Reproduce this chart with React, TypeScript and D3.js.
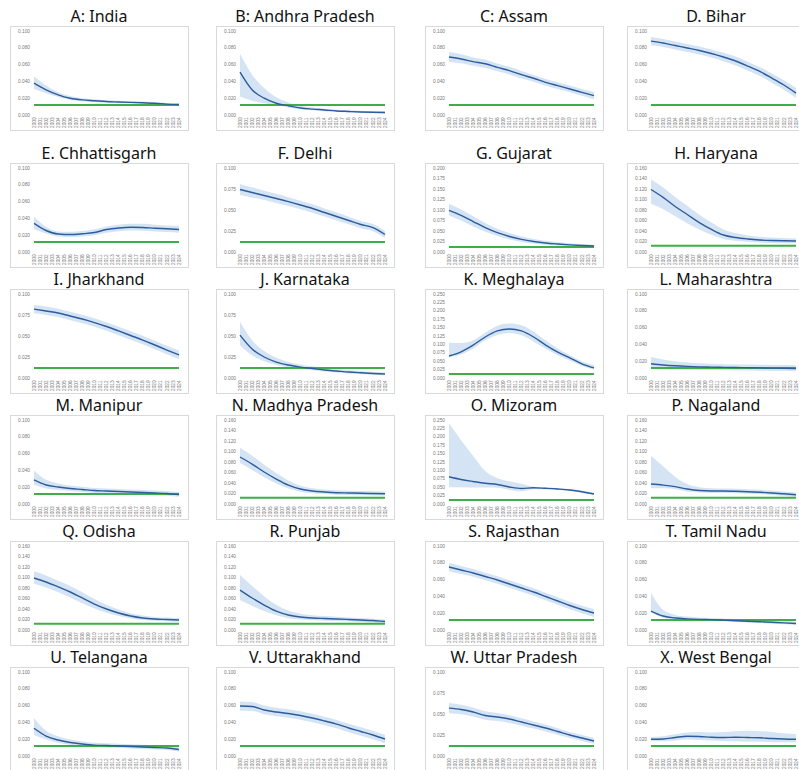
import React from 'react';
import * as d3 from 'd3';

// x-axis tick labels and the years where the estimates were read
const xYears = ['2000', '2001', '2002', '2003', '2004', '2005', '2006', '2007', '2008', '2009', '2010', '2011', '2012',
  '2013', '2014', '2015', '2016', '2017', '2018', '2019', '2020', '2021', '2022', '2023', '2024'];
const dataYears = [2000, 2002, 2004, 2006, 2008, 2010, 2012, 2014, 2016, 2018, 2020, 2022, 2024];
const target = 12;

const indiaMean = [38, 30, 24, 20, 18, 17, 16, 15.5, 15, 14.5, 14, 13, 12.5];
const indiaHi = [46, 35, 27, 22.5, 20, 18.7, 17.6, 17, 16.5, 16, 15.4, 14.4, 13.8];
const indiaLo = [31, 26, 21.5, 18, 16.3, 15.5, 14.6, 14.1, 13.6, 13.1, 12.6, 11.7, 11.2];

const andhraMean = [51, 30, 20, 14, 11, 8.3, 7, 6, 4.8, 4.2, 3.6, 3.2, 3];
const andhraHi = [73, 48, 32, 21, 15, 11, 9, 7.5, 6.3, 5.6, 5, 4.6, 4.4];
const andhraLo = [22, 17, 14, 11.5, 9, 7, 5.6, 4.6, 3.5, 2.9, 2.3, 2, 1.7];

const assamMean = [69, 66.7, 63.5, 61, 56.7, 52.8, 48, 43.7, 38.9, 34.9, 31, 27, 23];
const assamHi = [75, 72.2, 68.5, 66, 61.2, 57.3, 52.5, 47.7, 42.9, 38.9, 35, 31, 27.5];
const assamLo = [63, 61.5, 58.5, 56, 52.2, 48.3, 43.5, 39.7, 34.9, 30.9, 27, 23, 18.5];

const biharMean = [88, 85.7, 82.7, 79.8, 76.8, 73.2, 69, 64.3, 58.3, 51.8, 44, 35.7, 26];
const biharHi = [93, 90.5, 87.5, 84.5, 81.5, 78, 74, 69.5, 63.5, 57, 49.5, 41.5, 32];
const biharLo = [83, 81, 78, 75, 72, 68.5, 64, 59, 53, 46.5, 38.5, 30, 20.5];

const chhattisgarhMean = [34, 25.6, 21.4, 20.8, 21.7, 23.2, 26.8, 28.6, 29.5, 29.2, 28.3, 27.6, 26.8];
const chhattisgarhHi = [42, 30, 24.5, 24, 25, 27, 30.5, 32.5, 33.5, 33.5, 32.5, 31.5, 31];
const chhattisgarhLo = [27, 22, 18.5, 17.8, 18.5, 20, 23, 24.8, 25.5, 25.2, 24.5, 23.8, 23];

const delhiMean = [74.4, 70.8, 67.3, 63.7, 60, 56, 51.8, 47, 42.3, 37.5, 32.7, 29, 20.8];
const delhiHi = [81, 77, 73, 69.2, 65.3, 61, 56.8, 51.8, 47, 42, 37, 33.3, 25];
const delhiLo = [68, 65, 61.8, 58.2, 54.7, 51, 46.8, 42.2, 37.6, 33, 28.4, 24.7, 16.6];

const gujaratMean = [99, 87, 72.6, 58, 46, 37, 30, 25, 21.4, 19, 17, 15.5, 14.3];
const gujaratHi = [115, 101, 85, 69, 55.5, 45, 37, 31, 26.5, 23.5, 21, 19, 17.5];
const gujaratLo = [87, 75, 61, 48.5, 38, 30, 24, 20, 17, 15, 13.5, 12.3, 11.3];

const haryanaMean = [119, 104, 86.7, 71.4, 56, 43, 32.4, 27.6, 24.8, 22.9, 21.9, 21.3, 21];
const haryanaHi = [138, 123, 105, 88, 71, 56, 43, 36, 31.5, 29, 27.5, 26.5, 26];
const haryanaLo = [92, 82, 68, 55, 43, 33, 25, 21.5, 19.5, 18, 17.3, 16.8, 16.5];

const jharkhandMean = [82, 79.8, 77.4, 73.8, 70.2, 66, 61.3, 56, 50.6, 45.2, 39.3, 33.3, 27.4];
const jharkhandHi = [87, 85, 82.5, 79, 75.3, 71, 66.3, 61, 55.6, 50.2, 44.3, 38.5, 32.8];
const jharkhandLo = [77, 75, 72.5, 68.8, 65.2, 61, 56.3, 51, 45.6, 40.2, 34.3, 28.3, 22.2];

const karnatakaMean = [51, 34.5, 25, 19, 15.5, 13, 11.3, 9.5, 8.3, 7.1, 6.2, 5.4, 4.8];
const karnatakaHi = [67, 45, 32, 24, 19, 16, 14, 12, 10.5, 9.2, 8.2, 7.3, 6.6];
const karnatakaLo = [39, 27, 20, 15.5, 12.7, 10.6, 9.1, 7.6, 6.5, 5.4, 4.6, 3.9, 3.3];

const meghalayaMean = [65.5, 78, 98, 122, 140, 146, 140, 122, 98, 77, 60, 42, 30];
const meghalayaHi = [105, 104, 112, 135, 155, 162, 157, 138, 112, 88, 68, 50, 38];
const meghalayaLo = [62, 70, 88, 112, 128, 134, 127, 109, 87, 68, 52, 36, 25];

const maharashtraMean = [17, 15.5, 14.5, 13.8, 13.3, 13, 12.7, 12.5, 12.2, 12, 11.8, 11.6, 11.3];
const maharashtraHi = [25, 22, 20, 18.5, 17.5, 17, 16.5, 16.2, 16, 15.8, 15.6, 15.4, 15.2];
const maharashtraLo = [11, 10.5, 10, 9.8, 9.6, 9.4, 9.2, 9, 8.8, 8.6, 8.4, 8.2, 8];

const manipurMean = [28.6, 22.6, 20.2, 18.5, 17.3, 16, 15.5, 14.9, 14.3, 13.7, 13.1, 12.5, 11.3];
const manipurHi = [40, 29, 24.5, 22, 20.5, 19, 18.5, 17.8, 17.2, 16.6, 16, 15.4, 14.3];
const manipurLo = [23, 18.5, 16.8, 15.4, 14.4, 13.2, 12.7, 12.1, 11.6, 11, 10.4, 9.8, 8.6];

const madhyaMean = [89.5, 76, 61, 47.6, 36, 28.6, 24.8, 22.9, 21.5, 21, 20.4, 20, 19.6];
const madhyaHi = [107, 92, 75, 59, 45, 35, 30, 27.5, 26, 25.3, 24.6, 24.2, 23.8];
const madhyaLo = [78, 65, 51, 39, 29.5, 23.5, 20.5, 19, 17.8, 17.2, 16.6, 16.2, 15.8];

const mizoramMean = [81, 73, 67, 61.6, 58, 50.6, 46, 48.5, 46.7, 44.6, 41.7, 36.6, 29.8];
const mizoramHi = [240, 190, 143, 98, 77, 68, 60, 51, 49, 47.6, 44.6, 40, 33];
const mizoramLo = [50, 50, 49, 49, 48, 42, 38, 44, 43, 41.5, 38.5, 33.5, 27];

const nagalandMean = [38, 36, 33, 28.6, 25.7, 24.8, 24.8, 24.2, 23.4, 22.3, 21, 19.4, 17.7];
const nagalandHi = [92, 72, 52, 38, 32, 30, 29.5, 29, 28, 27, 25.5, 24, 22];
const nagalandLo = [30, 30, 28, 24, 22, 21, 21, 20.5, 19.7, 18.6, 17.3, 15.8, 14];

const odishaMean = [99, 91.4, 82, 72.4, 61, 49.5, 40, 32.4, 26.7, 22.9, 21, 20, 19];
const odishaHi = [112, 104, 94, 84, 72, 59, 48, 39, 32, 27.5, 25, 23.7, 22.5];
const odishaLo = [88, 81, 72, 62, 51, 41, 33, 26.5, 22, 19, 17.5, 16.6, 15.7];

const punjabMean = [76, 61, 47.6, 36, 28.6, 24.8, 22.9, 21.9, 21, 20, 19, 18, 16.2];
const punjabHi = [105, 84, 64, 48, 37, 31, 28, 26.5, 25.3, 24, 22.8, 21.6, 19.8];
const punjabLo = [57, 46, 36, 28, 22.5, 19.8, 18.5, 17.8, 17, 16.2, 15.3, 14.5, 12.8];

const rajasthanMean = [75, 71.4, 67.9, 63.7, 59.5, 54.8, 50, 45.2, 39.9, 34.5, 29.2, 24.4, 20.2];
const rajasthanHi = [80, 76.2, 72.5, 68.3, 64, 59.2, 54.4, 49.6, 44.3, 38.9, 33.6, 28.8, 24.8];
const rajasthanLo = [70, 66.6, 63.3, 59.1, 55, 50.4, 45.6, 40.8, 35.5, 30.1, 24.8, 20, 15.6];

const tamilMean = [22.6, 16.7, 14.3, 13.3, 12.7, 12.3, 11.7, 11.1, 10.5, 9.9, 9.2, 8.5, 7.7];
const tamilHi = [44, 24, 18, 16, 15, 14.4, 13.8, 13.2, 12.6, 12, 11.3, 10.6, 9.8];
const tamilLo = [21, 14.5, 12.5, 11.6, 11, 10.6, 10, 9.4, 8.8, 8.2, 7.5, 6.8, 6];

const telanganaMean = [33, 23.8, 19, 16, 14.3, 13, 12.5, 11.9, 11.3, 10.7, 10.1, 9.5, 7.7];
const telanganaHi = [45, 30, 23.5, 19.5, 17.3, 15.8, 15.2, 14.5, 13.9, 13.3, 12.7, 12.1, 10.4];
const telanganaLo = [25, 19.5, 15.8, 13.3, 11.8, 10.6, 10.1, 9.5, 8.9, 8.3, 7.7, 7.1, 5.3];

const uttarakhandMean = [59.5, 59, 54.8, 52.4, 50.6, 48.2, 45.2, 41.7, 38, 33.3, 29.2, 25, 20.2];
const uttarakhandHi = [65, 64.3, 60, 57.5, 55.6, 53.2, 50.2, 46.7, 43, 38.3, 34.2, 30, 25.2];
const uttarakhandLo = [54, 53.7, 49.6, 47.3, 45.6, 43.2, 40.2, 36.7, 33, 28.3, 24.2, 20, 15.2];

const upMean = [57, 55.4, 52.4, 48.2, 46.4, 44, 40.5, 36.9, 33.3, 29.2, 25, 21.4, 17.9];
const upHi = [63, 61, 57.7, 53.2, 51.2, 48.6, 45, 41.2, 37.4, 33.1, 28.7, 25, 21.3];
const upLo = [51, 49.8, 47.1, 43.2, 41.6, 39.4, 36, 32.6, 29.2, 25.3, 21.3, 17.8, 14.5];

const bengalMean = [19.9, 20.2, 22, 23.5, 23.2, 22.3, 22, 22.3, 22, 21.7, 20.8, 20.2, 19.9];
const bengalHi = [22.5, 23.5, 26, 28, 28.5, 28, 28.5, 29.5, 30, 29.5, 28.5, 27, 26];
const bengalLo = [17.5, 17.5, 18.5, 19.5, 19, 18.5, 18, 17.5, 17, 17, 16.5, 16.5, 16.5];

// title, series, y max, number of y intervals
const panels = [
  { title: 'A: India', mean: indiaMean, hi: indiaHi, lo: indiaLo, yMax: 100, steps: 5 },
  { title: 'B: Andhra Pradesh', mean: andhraMean, hi: andhraHi, lo: andhraLo, yMax: 100, steps: 5 },
  { title: 'C: Assam', mean: assamMean, hi: assamHi, lo: assamLo, yMax: 100, steps: 5 },
  { title: 'D. Bihar', mean: biharMean, hi: biharHi, lo: biharLo, yMax: 100, steps: 5 },
  { title: 'E. Chhattisgarh', mean: chhattisgarhMean, hi: chhattisgarhHi, lo: chhattisgarhLo, yMax: 100, steps: 5 },
  { title: 'F. Delhi', mean: delhiMean, hi: delhiHi, lo: delhiLo, yMax: 100, steps: 4 },
  { title: 'G. Gujarat', mean: gujaratMean, hi: gujaratHi, lo: gujaratLo, yMax: 200, steps: 8 },
  { title: 'H. Haryana', mean: haryanaMean, hi: haryanaHi, lo: haryanaLo, yMax: 160, steps: 8 },
  { title: 'I. Jharkhand', mean: jharkhandMean, hi: jharkhandHi, lo: jharkhandLo, yMax: 100, steps: 4 },
  { title: 'J. Karnataka', mean: karnatakaMean, hi: karnatakaHi, lo: karnatakaLo, yMax: 100, steps: 4 },
  { title: 'K. Meghalaya', mean: meghalayaMean, hi: meghalayaHi, lo: meghalayaLo, yMax: 250, steps: 10 },
  { title: 'L. Maharashtra', mean: maharashtraMean, hi: maharashtraHi, lo: maharashtraLo, yMax: 100, steps: 5 },
  { title: 'M. Manipur', mean: manipurMean, hi: manipurHi, lo: manipurLo, yMax: 100, steps: 5 },
  { title: 'N. Madhya Pradesh', mean: madhyaMean, hi: madhyaHi, lo: madhyaLo, yMax: 160, steps: 8 },
  { title: 'O. Mizoram', mean: mizoramMean, hi: mizoramHi, lo: mizoramLo, yMax: 250, steps: 10 },
  { title: 'P. Nagaland', mean: nagalandMean, hi: nagalandHi, lo: nagalandLo, yMax: 160, steps: 8 },
  { title: 'Q. Odisha', mean: odishaMean, hi: odishaHi, lo: odishaLo, yMax: 160, steps: 8 },
  { title: 'R. Punjab', mean: punjabMean, hi: punjabHi, lo: punjabLo, yMax: 160, steps: 8 },
  { title: 'S. Rajasthan', mean: rajasthanMean, hi: rajasthanHi, lo: rajasthanLo, yMax: 100, steps: 5 },
  { title: 'T. Tamil Nadu', mean: tamilMean, hi: tamilHi, lo: tamilLo, yMax: 100, steps: 5 },
  { title: 'U. Telangana', mean: telanganaMean, hi: telanganaHi, lo: telanganaLo, yMax: 100, steps: 5 },
  { title: 'V. Uttarakhand', mean: uttarakhandMean, hi: uttarakhandHi, lo: uttarakhandLo, yMax: 100, steps: 5 },
  { title: 'W. Uttar Pradesh', mean: upMean, hi: upHi, lo: upLo, yMax: 100, steps: 4 },
  { title: 'X. West Bengal', mean: bengalMean, hi: bengalHi, lo: bengalLo, yMax: 100, steps: 5 },
];

const colX = [10, 216, 425, 627];
const rowY = [26, 163, 289, 415, 541, 667];
const frameW = 178;
const frameH = 104;

const Panel: React.FC<{ p: typeof panels[0]; x0: number; y0: number }> = ({ p, x0, y0 }) => {
  const x = d3.scaleLinear().domain([2000, 2024]).range([x0 + 24, x0 + 169]);
  const y = d3.scaleLinear().domain([0, p.yMax]).range([y0 + 89, y0 + 5]);
  const rows = dataYears.map((yr, i) => ({ yr, m: p.mean[i], lo: p.lo[i], hi: p.hi[i] }));
  const area = d3.area<typeof rows[0]>()
    .x(d => x(d.yr)).y0(d => y(d.lo)).y1(d => y(d.hi))
    .curve(d3.curveMonotoneX);
  const line = d3.line<typeof rows[0]>()
    .x(d => x(d.yr)).y(d => y(d.m))
    .curve(d3.curveMonotoneX);
  const ticks = d3.range(p.steps + 1).map(i => (p.yMax / p.steps) * i);

  return (
    <g>
      <text x={x0 + frameW / 2} y={y0 - 4} textAnchor="middle" fontSize={16}
        fontFamily="'Noto Sans', sans-serif" fill="#111">{p.title}</text>
      <rect x={x0 + 0.5} y={y0 + 0.5} width={frameW} height={frameH} fill="#fff" stroke="#d9d9d9" />
      {ticks.map(t => (
        <text key={t} x={x0 + 8} y={y(t) + 1.5} fontSize={4.8} fill="#7a7a7a"
          fontFamily="'Liberation Sans', sans-serif">{(t / 1000).toFixed(3)}</text>
      ))}
      {xYears.map(yr => (
        <text key={yr} transform={`translate(${x(+yr) + 1.6},${y0 + 102}) rotate(-90)`}
          fontSize={4.8} fill="#7a7a7a" fontFamily="'Liberation Sans', sans-serif">{yr}</text>
      ))}
      <path d={area(rows) || ''} fill="#c5dbf0" opacity={0.75} />
      <line x1={x(2000)} x2={x(2024)} y1={y(target)} y2={y(target)} stroke="#3fae49" strokeWidth={2} />
      <path d={line(rows) || ''} fill="none" stroke="#2c5c9c" strokeWidth={1.4} />
    </g>
  );
};

export default function App() {
  return (
    <svg width={799} height={770} style={{ position: 'absolute', left: 0, top: 0, background: '#fff' }}>
      {panels.map((p, i) => (
        <Panel key={p.title} p={p} x0={colX[i % 4]} y0={rowY[Math.floor(i / 4)]} />
      ))}
    </svg>
  );
}
